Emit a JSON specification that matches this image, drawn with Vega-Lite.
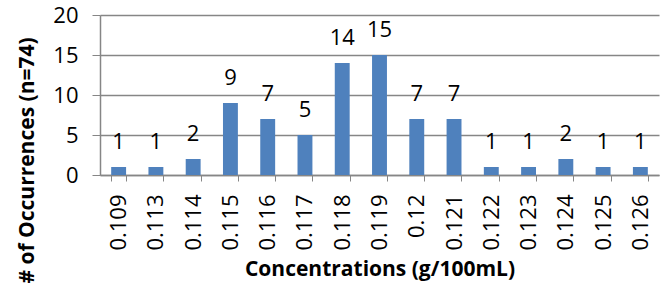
{
  "$schema": "https://vega.github.io/schema/vega-lite/v6.json",
  "width": 559,
  "height": 160,
  "autosize": "none",
  "padding": {"left": 100, "top": 15, "right": 5, "bottom": 120},
  "background": "white",
  "config": {
    "view": {"stroke": null},
    "font": "Open Sans",
    "axis": {"labelFont": "Open Sans", "titleFont": "Open Sans"}
  },
  "data": {
    "values": [
      {"c": "0.109", "n": 1},
      {"c": "0.113", "n": 1},
      {"c": "0.114", "n": 2},
      {"c": "0.115", "n": 9},
      {"c": "0.116", "n": 7},
      {"c": "0.117", "n": 5},
      {"c": "0.118", "n": 14},
      {"c": "0.119", "n": 15},
      {"c": "0.12", "n": 7},
      {"c": "0.121", "n": 7},
      {"c": "0.122", "n": 1},
      {"c": "0.123", "n": 1},
      {"c": "0.124", "n": 2},
      {"c": "0.125", "n": 1},
      {"c": "0.126", "n": 1}
    ]
  },
  "encoding": {
    "x": {
      "field": "c", "type": "nominal", "sort": null,
      "scale": {"paddingInner": 0.6, "paddingOuter": 0.3},
      "axis": {
        "title": "Concentrations (g/100mL)",
        "titleFontSize": 21, "titleFontWeight": "bold", "titleColor": "#000",
        "titlePadding": 8,
        "labelAngle": -90, "labelFontSize": 22, "labelColor": "#000",
        "labelPadding": 13, "labelBaseline": "middle",
        "tickBand": "extent", "tickSize": 6, "tickColor": "#868686",
        "domainColor": "#868686", "domainWidth": 1.5
      }
    },
    "y": {
      "field": "n", "type": "quantitative",
      "scale": {"domain": [0, 20]},
      "axis": {
        "title": "# of Occurrences (n=74)",
        "titleFontSize": 21, "titleFontWeight": "bold", "titleColor": "#000",
        "titleX": -73, "titleY": 145, "titleAlign": "center", "titleBaseline": "middle",
        "values": [0, 5, 10, 15, 20],
        "labelFontSize": 22, "labelColor": "#000", "labelPadding": 14,
        "tickSize": 8, "tickColor": "#868686",
        "grid": true, "gridColor": "#868686", "gridWidth": 1.5,
        "domainColor": "#868686", "domainWidth": 1.5
      }
    }
  },
  "layer": [
    {"mark": {"type": "bar", "color": "#4F81BD"}},
    {
      "mark": {"type": "text", "fontSize": 22, "dy": -18, "baseline": "alphabetic", "color": "#000"},
      "encoding": {"text": {"field": "n", "type": "quantitative"}}
    }
  ]
}
